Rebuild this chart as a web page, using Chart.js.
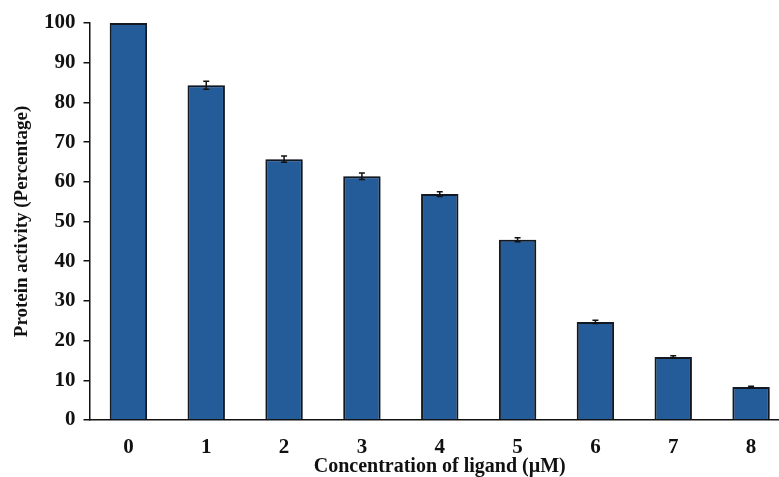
<!DOCTYPE html>
<html>
<head>
<meta charset="utf-8">
<script src="https://cdn.jsdelivr.net/npm/chart.js@4"></script>
<style>
    html, body { margin: 0; padding: 0; background: #fff; overflow: hidden; }
    #frame { width: 779px; height: 477px; overflow: hidden; }
    #wrap { width: 790px; height: 477px; }
</style>
</head>
<body>
<div id="frame"><div id="wrap"><canvas id="myChart"></canvas></div></div>
<script>
const concentrations = ['0', '1', '2', '3', '4', '5', '6', '7', '8'];
const activity = [100, 84.3, 65.7, 61.4, 56.9, 45.4, 24.7, 15.9, 8.3];
const activityErr = [0, 1.0, 0.8, 0.8, 0.6, 0.5, 0.4, 0.3, 0.2];
const yTicks = [0, 10, 20, 30, 40, 50, 60, 70, 80, 90, 100];

const serif = 'Liberation Serif, Times New Roman, serif';

// soft shadow behind the bars
const barShadow = {
    id: 'barShadow',
    beforeDatasetsDraw(chart) {
        const ctx = chart.ctx;
        ctx.save();
        ctx.shadowColor = 'rgba(0, 0, 0, 0.35)';
        ctx.shadowBlur = 5;
        ctx.shadowOffsetX = 0;
        ctx.shadowOffsetY = 0;
    },
    afterDatasetsDraw(chart) {
        chart.ctx.restore();
    },
};

// error bars drawn on top of each bar from the y scale
const errorBars = {
    id: 'errorBars',
    afterDatasetsDraw(chart) {
        const ctx = chart.ctx;
        const y = chart.scales.y;
        const meta = chart.getDatasetMeta(0);
        ctx.save();
        ctx.strokeStyle = '#111';
        ctx.lineWidth = 1.5;
        meta.data.forEach((bar, i) => {
            const err = activityErr[i];
            if (!err) {
                return;
            }
            const top = y.getPixelForValue(activity[i] + err);
            const bottom = y.getPixelForValue(activity[i] - err);
            const cap = 3;
            ctx.beginPath();
            ctx.moveTo(bar.x, top);
            ctx.lineTo(bar.x, bottom);
            ctx.moveTo(bar.x - cap, top);
            ctx.lineTo(bar.x + cap, top);
            ctx.moveTo(bar.x - cap, bottom);
            ctx.lineTo(bar.x + cap, bottom);
            ctx.stroke();
        });
        ctx.restore();
    },
};

const ctx = document.getElementById('myChart').getContext('2d');
new Chart(ctx, {
    type: 'bar',
    data: {
        labels: concentrations,
        datasets: [{
            data: activity,
            backgroundColor: '#245c99',
            borderColor: '#141c28',
            borderWidth: 2,
            barPercentage: 0.48,
            categoryPercentage: 1,
        }],
    },
    options: {
        responsive: true,
        maintainAspectRatio: false,
        animation: false,
        plugins: {
            legend: { display: false },
            tooltip: { enabled: false },
        },
        layout: {
            padding: { left: 0, right: 0, top: 23, bottom: 0 },
        },
        scales: {
            y: {
                min: 0,
                max: 100,
                afterBuildTicks: scale => {
                    scale.ticks = yTicks.map(v => ({ value: v }));
                },
                ticks: {
                    color: '#111',
                    padding: 8,
                    font: { family: serif, size: 21, weight: 'bold', lineHeight: 1 },
                },
                grid: {
                    drawOnChartArea: false,
                    drawTicks: true,
                    tickLength: 6,
                    color: '#111',
                    lineWidth: 1.5,
                },
                border: { color: '#111', width: 1.5 },
                title: {
                    display: true,
                    text: 'Protein activity (Percentage)',
                    color: '#111',
                    padding: { top: 13, bottom: 4 },
                    font: { family: serif, size: 19, weight: 'bold', lineHeight: 1 },
                },
            },
            x: {
                afterFit: scale => {
                    scale.height = 57;
                },
                grid: { display: false, drawTicks: false },
                border: { color: '#111', width: 1.5 },
                ticks: {
                    color: '#111',
                    padding: 17,
                    font: { family: serif, size: 21, weight: 'bold', lineHeight: 1 },
                },
                title: {
                    display: true,
                    text: 'Concentration of ligand (\u00b5M)',
                    color: '#111',
                    padding: { top: 0, bottom: 0 },
                    font: { family: serif, size: 20, weight: 'bold', lineHeight: 1 },
                },
            },
        },
    },
    plugins: [barShadow, errorBars],
});
</script>
</body>
</html>
